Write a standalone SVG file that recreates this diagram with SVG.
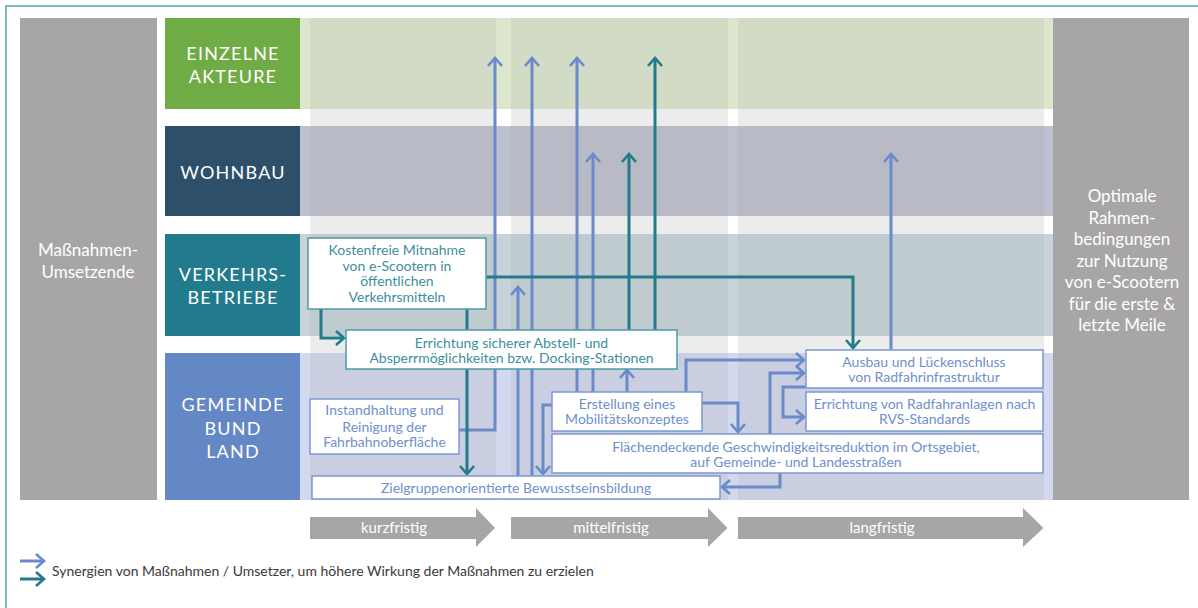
<svg xmlns="http://www.w3.org/2000/svg" width="1198" height="608" viewBox="0 0 1198 608">
<style>
text{font-family:Lato,"Open Sans","Liberation Sans",sans-serif}
.lbl{fill:#fff;font-size:18px;letter-spacing:1.2px;text-anchor:middle}
.side{fill:#fff;font-size:17px;text-anchor:middle}
.tt{fill:#3d8f9c;font-size:14px;text-anchor:middle}
.bt{fill:#6f8fcc;font-size:14px;text-anchor:middle}
.time{fill:#fff;font-size:15px;text-anchor:middle}
.leg{fill:#3a3a3a;font-size:14px}
.tbox{fill:#fff;stroke:#4d9aa6;stroke-width:1.5}
.bbox{fill:#fff;stroke:#7c98d2;stroke-width:1.5}
.b{fill:none;stroke:#6a8ac8;stroke-width:3;marker-end:url(#ab)}
.t{fill:none;stroke:#217b8b;stroke-width:3;marker-end:url(#at)}
.gray{fill:#a7a5a6}
</style>
<defs>
<marker id="ab" markerUnits="userSpaceOnUse" viewBox="-12 -10 14 20" refX="0" refY="0" markerWidth="14" markerHeight="20" orient="auto" overflow="visible">
<path d="M-8,-7 L0,0 L-8,7" fill="none" stroke="#6a8ac8" stroke-width="2.6"/>
</marker>
<marker id="at" markerUnits="userSpaceOnUse" viewBox="-12 -10 14 20" refX="0" refY="0" markerWidth="14" markerHeight="20" orient="auto" overflow="visible">
<path d="M-8,-7 L0,0 L-8,7" fill="none" stroke="#217b8b" stroke-width="2.6"/>
</marker>
</defs>
<rect width="1198" height="608" fill="#fff"/>
<path d="M6,608 V6 H1198" fill="none" stroke="#4fa3b3" stroke-width="1.5"/>

<g id="background">
<!-- row 1 -->
<rect x="300" y="18" width="753" height="91" fill="#dbe6cc"/>
<rect x="310" y="18" width="186" height="91" fill="#d1dbc5"/>
<rect x="511" y="18" width="217" height="91" fill="#d1dbc5"/>
<rect x="738" y="18" width="306" height="91" fill="#d1dbc5"/>
<!-- gap 1 -->
<rect x="310" y="109" width="186" height="17" fill="#ececec"/>
<rect x="511" y="109" width="217" height="17" fill="#ececec"/>
<rect x="738" y="109" width="306" height="17" fill="#ececec"/>
<!-- row 2 -->
<rect x="300" y="126" width="753" height="90" fill="#bdc1cf"/>
<rect x="310" y="126" width="186" height="90" fill="#b8bbc5"/>
<rect x="511" y="126" width="217" height="90" fill="#b8bbc5"/>
<rect x="738" y="126" width="306" height="90" fill="#b8bbc5"/>
<!-- gap 2 -->
<rect x="310" y="216" width="186" height="18" fill="#ececec"/>
<rect x="511" y="216" width="217" height="18" fill="#ececec"/>
<rect x="738" y="216" width="306" height="18" fill="#ececec"/>
<!-- row 3 -->
<rect x="300" y="234" width="753" height="102" fill="#c7d3d9"/>
<rect x="310" y="234" width="186" height="102" fill="#c0cbd0"/>
<rect x="511" y="234" width="217" height="102" fill="#c0cbd0"/>
<rect x="738" y="234" width="306" height="102" fill="#c0cbd0"/>
<!-- gap 3 -->
<rect x="310" y="336" width="186" height="17" fill="#ececec"/>
<rect x="511" y="336" width="217" height="17" fill="#ececec"/>
<rect x="738" y="336" width="306" height="17" fill="#ececec"/>
<!-- row 4 -->
<rect x="300" y="353" width="753" height="147" fill="#d2d8ee"/>
<rect x="310" y="353" width="186" height="147" fill="#c9cfe0"/>
<rect x="511" y="353" width="217" height="147" fill="#c9cfe0"/>
<rect x="738" y="353" width="306" height="147" fill="#c9cfe0"/>
</g>

<g id="col-left">
<rect x="20" y="18" width="137" height="482" class="gray"/>
<text class="side" x="88" y="256">Maßnahmen-</text>
<text class="side" x="88" y="277.5">Umsetzende</text>
</g>
<g id="col-right">
<rect x="1053" y="18" width="136" height="482" class="gray"/>
<text class="side" x="1122" y="202">Optimale</text>
<text class="side" x="1122" y="223.5">Rahmen-</text>
<text class="side" x="1122" y="245">bedingungen</text>
<text class="side" x="1122" y="266.5">zur Nutzung</text>
<text class="side" x="1122" y="288">von e-Scootern</text>
<text class="side" x="1122" y="309.5">für die erste &amp;</text>
<text class="side" x="1122" y="331">letzte Meile</text>
</g>

<g id="row-einzelne">
<rect x="165" y="18" width="135" height="91" fill="#6fac46"/>
<text class="lbl" x="233" y="59.5">EINZELNE</text>
<text class="lbl" x="233" y="82.5">AKTEURE</text>
</g>
<g id="row-wohnbau">
<rect x="165" y="126" width="135" height="90" fill="#2e4f6a"/>
<text class="lbl" x="233" y="178.5">WOHNBAU</text>
</g>
<g id="row-verkehr">
<rect x="165" y="234" width="135" height="102" fill="#217b8c"/>
<text class="lbl" x="233" y="281">VERKEHRS-</text>
<text class="lbl" x="233" y="303.5">BETRIEBE</text>
</g>
<g id="row-gemeinde">
<rect x="165" y="353" width="135" height="147" fill="#6488c6"/>
<text class="lbl" x="233" y="411">GEMEINDE</text>
<text class="lbl" x="233" y="434.5">BUND</text>
<text class="lbl" x="233" y="458">LAND</text>
</g>

<g id="connectors">
<path class="b" d="M459,430 H495 V58"/>
<path class="b" d="M518,476 V287"/>
<path class="b" d="M532,476 V58"/>
<path class="b" d="M577,392 V58"/>
<path class="b" d="M593,392 V154"/>
<path class="b" d="M627,392 V370"/>
<path class="b" d="M891,350 V154"/>
<path class="b" d="M702,403 H738 V432"/>
<path class="b" d="M686,392 V360 H804"/>
<path class="b" d="M770,434 V373 H804"/>
<path class="b" d="M806,387 H783 V417 H804"/>
<path class="b" d="M780,473 V487 H722"/>
<path class="b" d="M552,405 H543 V474"/>
<path class="t" d="M467,309 V474"/>
<path class="t" d="M321,309 V338 H344"/>
<path class="t" d="M486,277 H853 V348"/>
<path class="t" d="M629,330 V154"/>
<path class="t" d="M655,330 V58"/>
</g>

<g id="n-kostenfrei">
<rect class="tbox" x="308" y="238" width="178" height="71"/>
<text class="tt" x="397" y="255">Kostenfreie Mitnahme</text>
<text class="tt" x="397" y="270.5">von e-Scootern in</text>
<text class="tt" x="397" y="286">öffentlichen</text>
<text class="tt" x="397" y="301.5">Verkehrsmitteln</text>
</g>
<g id="n-abstell">
<rect class="tbox" x="346" y="330" width="331" height="39"/>
<text class="tt" x="511.5" y="347.5">Errichtung sicherer Abstell- und</text>
<text class="tt" x="511.5" y="363.3">Absperrmöglichkeiten bzw. Docking-Stationen</text>
</g>
<g id="n-instand">
<rect class="bbox" x="310" y="399" width="149" height="55"/>
<text class="bt" x="384.5" y="415">Instandhaltung und</text>
<text class="bt" x="384.5" y="431.5">Reinigung der</text>
<text class="bt" x="384.5" y="447.3">Fahrbahnoberfläche</text>
</g>
<g id="n-ziel">
<rect class="bbox" x="312" y="476" width="408" height="23"/>
<text class="bt" x="516" y="493">Zielgruppenorientierte Bewusstseinsbildung</text>
</g>
<g id="n-mobil">
<rect class="bbox" x="552" y="392" width="150" height="39"/>
<text class="bt" x="627" y="409">Erstellung eines</text>
<text class="bt" x="627" y="424.3">Mobilitätskonzeptes</text>
</g>
<g id="n-tempo">
<rect class="bbox" x="552" y="434" width="491" height="39"/>
<text class="bt" x="796" y="451.7">Flächendeckende Geschwindigkeitsreduktion im Ortsgebiet,</text>
<text class="bt" x="796" y="466.7">auf Gemeinde- und Landesstraßen</text>
</g>
<g id="n-ausbau">
<rect class="bbox" x="806" y="350" width="237" height="38"/>
<text class="bt" x="924" y="367.3">Ausbau und Lückenschluss</text>
<text class="bt" x="924" y="382.3">von Radfahrinfrastruktur</text>
</g>
<g id="n-rvs">
<rect class="bbox" x="806" y="392" width="237" height="39"/>
<text class="bt" x="924.5" y="409">Errichtung von Radfahranlagen nach</text>
<text class="bt" x="924.5" y="424">RVS-Standards</text>
</g>

<g id="timeline">
<path class="gray" d="M310,517 H476 V508 L495,528 L476,547 V539 H310 Z"/>
<path class="gray" d="M511,517 H708 V508 L727.5,528 L708,547 V539 H511 Z"/>
<path class="gray" d="M738,517 H1023 V508 L1043.5,528 L1023,547 V539 H738 Z"/>
<text class="time" x="394" y="533">kurzfristig</text>
<text class="time" x="611" y="533">mittelfristig</text>
<text class="time" x="882" y="533">langfristig</text>
</g>

<g id="legend">
<path class="b" d="M20,561 H44"/>
<path class="t" d="M20,579 H44"/>
<text class="leg" x="52" y="576">Synergien von Maßnahmen / Umsetzer, um höhere Wirkung der Maßnahmen zu erzielen</text>
</g>
</svg>
